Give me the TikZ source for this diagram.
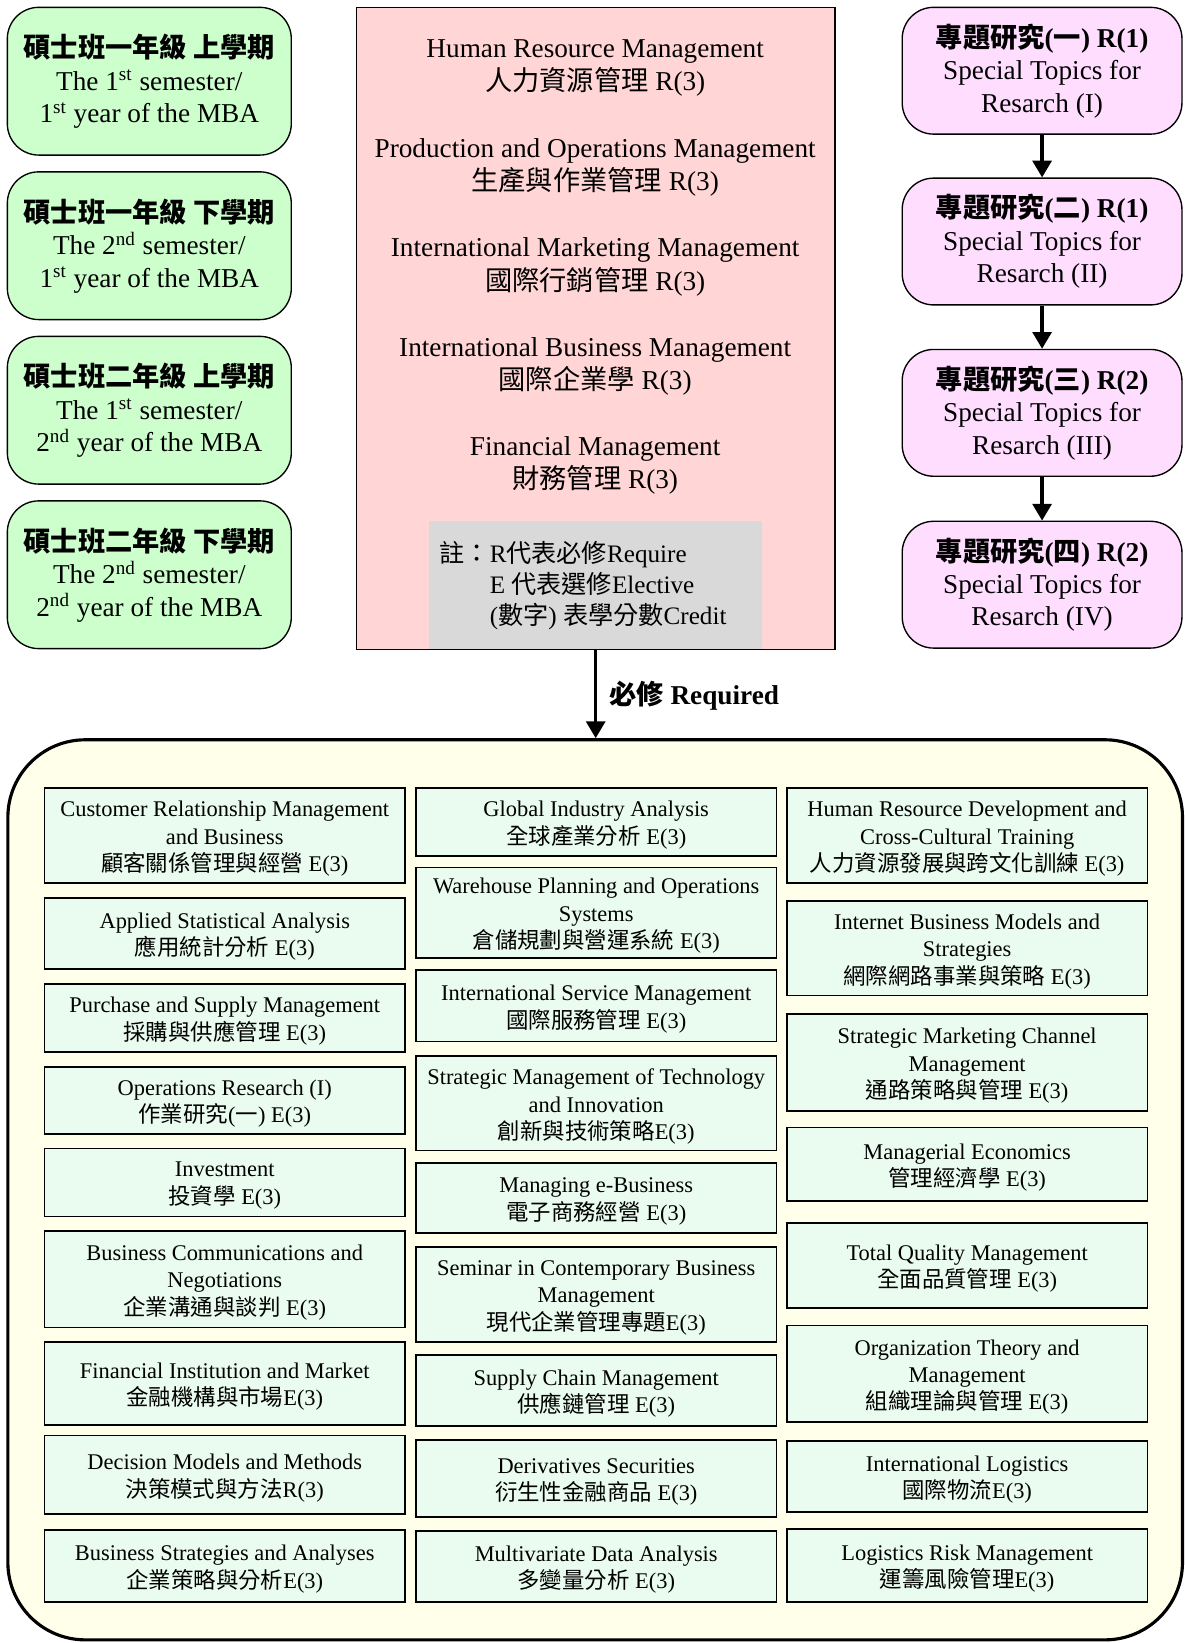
\documentclass[tikz,border=0pt]{standalone}
\usepackage{fontspec}
\setmainfont{Liberation Serif}
\newfontfamily\cjk{Noto Sans CJK TC}
\newcommand\C[1]{{\cjk #1}}
\usetikzlibrary{arrows.meta}
\definecolor{semgreen}{RGB}{204,255,204}
\definecolor{midpink}{RGB}{255,213,213}
\definecolor{notegray}{RGB}{217,217,217}
\definecolor{rpink}{RGB}{255,221,255}
\definecolor{ivory}{RGB}{255,255,234}
\definecolor{coursefill}{RGB}{234,251,239}
\tikzset{
  sembox/.style={draw, line width=0.65pt, fill=semgreen, rounded corners=15pt,
    minimum width=135.5pt, minimum height=70.5pt, inner sep=0pt, align=center,
    font=\fontsize{13}{15.5}\selectfont},
  resbox/.style={draw, line width=0.65pt, fill=rpink, rounded corners=15pt,
    minimum width=133.5pt, minimum height=60.5pt, inner sep=0pt, align=center,
    font=\fontsize{13}{15.5}\selectfont},
  midtxt/.style={inner sep=0pt, align=center, font=\fontsize{13}{16}\selectfont},
  coursebg/.style={draw, line width=0.8pt, fill=coursefill, minimum width=172pt, inner sep=0pt},
  coursetxt/.style={inner sep=0pt, align=center, font=\fontsize{10.7}{13}\selectfont},
  arr/.style={line width=1.6pt, -{Triangle[width=9pt,length=8pt]}},
}
\newcommand\coursebox[5]{%
  \node[coursebg, minimum height={(#4-#3)*0.5pt}] (#1) at ({#2},{(#3+#4)/2}) {};
  \node[coursetxt] (#1t) at ([yshift=-1.5pt]#1.center) {#5};}
\begin{document}
\begin{tikzpicture}[x=0.5pt,y=-0.5pt]
\useasboundingbox (0,0) rectangle (1130,1568);
\fill[white] (0,0) rectangle (1130,1568);

% left semester boxes
\node[sembox] (s1) at (142.5,77.5) {{\bfseries\C{碩士班一年級 上學期}}\\The 1\textsuperscript{st} semester/\\1\textsuperscript{st} year of the MBA};
\node[sembox] (s2) at (142.5,234.5) {{\bfseries\C{碩士班一年級 下學期}}\\The 2\textsuperscript{nd} semester/\\1\textsuperscript{st} year of the MBA};
\node[sembox] (s3) at (142.5,391.5) {{\bfseries\C{碩士班二年級 上學期}}\\The 1\textsuperscript{st} semester/\\2\textsuperscript{nd} year of the MBA};
\node[sembox] (s4) at (142.5,548.5) {{\bfseries\C{碩士班二年級 下學期}}\\The 2\textsuperscript{nd} semester/\\2\textsuperscript{nd} year of the MBA};

% middle required box
\node[draw, line width=0.65pt, fill=midpink, minimum width=228.5pt, minimum height=306.5pt, inner sep=0pt] (mid) at (568.5,313.5) {};
\node[midtxt] (m1) at (568,65) {Human Resource Management\\\C{人力資源管理} R(3)};
\node[midtxt] (m2) at (568,160) {Production and Operations Management\\\C{生產與作業管理} R(3)};
\node[midtxt] (m3) at (568,255) {International Marketing Management\\\C{國際行銷管理} R(3)};
\node[midtxt] (m4) at (568,349.5) {International Business Management\\\C{國際企業學} R(3)};
\node[midtxt] (m5) at (568,444) {Financial Management\\\C{財務管理} R(3)};
\node[fill=notegray, minimum width=159pt, minimum height=61.25pt, inner sep=0pt] (gray) at (568,558.25) {};
\node[anchor=west, inner sep=0pt, align=left, font=\fontsize{12}{14.75}\selectfont] (note) at (419,559)
  {\C{註：}R\C{代表必修}Require\\\phantom{\C{註：}}E \C{代表選修}Elective\\\phantom{\C{註：}}(\C{數字}) \C{表學分數}Credit};

% right research boxes
\node[resbox] (r1) at (994.5,67.5) {{\bfseries\C{專題研究}(\C{一}) R(1)}\\Special Topics for\\Resarch (I)};
\node[resbox] (r2) at (994.5,230.5) {{\bfseries\C{專題研究}(\C{二}) R(1)}\\Special Topics for\\Resarch (II)};
\node[resbox] (r3) at (994.5,394) {{\bfseries\C{專題研究}(\C{三}) R(2)}\\Special Topics for\\Resarch (III)};
\node[resbox] (r4) at (994.5,558) {{\bfseries\C{專題研究}(\C{四}) R(2)}\\Special Topics for\\Resarch (IV)};
\draw[arr] (r1) -- (r2);
\draw[arr] (r2) -- (r3);
\draw[arr] (r3) -- (r4);

% big elective box
\node[draw, line width=1.5pt, fill=ivory, rounded corners=37pt, minimum width=560.5pt, minimum height=429.5pt, inner sep=0pt] (big) at (568,1135.5) {};
\draw[arr] (mid.south) -- (mid.south |- big.north);
\node[anchor=west, inner sep=0pt, font=\fontsize{13}{15.5}\selectfont\bfseries] (req) at (581,664) {\C{必修} Required};

% column 1
\coursebox{c11}{214.5}{752}{843}{Customer Relationship Management\\and Business\\\C{顧客關係管理與經營} E(3)}
\coursebox{c12}{214.5}{857}{925}{Applied Statistical Analysis\\\C{應用統計分析} E(3)}
\coursebox{c13}{214.5}{939}{1004}{Purchase and Supply Management\\\C{採購與供應管理} E(3)}
\coursebox{c14}{214.5}{1018}{1082}{Operations Research (I)\\\C{作業研究}(\C{一}) E(3)}
\coursebox{c15}{214.5}{1096}{1161}{Investment\\\C{投資學} E(3)}
\coursebox{c16}{214.5}{1175}{1267}{Business Communications and\\Negotiations\\\C{企業溝通與談判} E(3)}
\coursebox{c17}{214.5}{1281}{1360}{Financial Institution and Market\\\C{金融機構與市場}E(3)}
\coursebox{c18}{214.5}{1370}{1445}{Decision Models and Methods\\\C{決策模式與方法}R(3)}
\coursebox{c19}{214.5}{1460}{1529}{Business Strategies and Analyses\\\C{企業策略與分析}E(3)}

% column 2
\coursebox{c21}{569}{752}{817}{Global Industry Analysis\\\C{全球產業分析} E(3)}
\coursebox{c22}{569}{828}{914}{Warehouse Planning and Operations\\Systems\\\C{倉儲規劃與營運系統} E(3)}
\coursebox{c23}{569}{926}{994}{International Service Management\\\C{國際服務管理} E(3)}
\coursebox{c24}{569}{1008}{1098}{Strategic Management of Technology\\and Innovation\\\C{創新與技術策略}E(3)}
\coursebox{c25}{569}{1110}{1177}{Managing e-Business\\\C{電子商務經營} E(3)}
\coursebox{c26}{569}{1190}{1281}{Seminar in Contemporary Business\\Management\\\C{現代企業管理專題}E(3)}
\coursebox{c27}{569}{1293}{1361}{Supply Chain Management\\\C{供應鏈管理} E(3)}
\coursebox{c28}{569}{1374}{1448}{Derivatives Securities\\\C{衍生性金融商品} E(3)}
\coursebox{c29}{569}{1461}{1529}{Multivariate Data Analysis\\\C{多變量分析} E(3)}

% column 3
\coursebox{c31}{923}{752}{843}{Human Resource Development and\\Cross-Cultural Training\\\C{人力資源發展與跨文化訓練} E(3)}
\coursebox{c32}{923}{860}{950}{Internet Business Models and\\Strategies\\\C{網際網路事業與策略} E(3)}
\coursebox{c33}{923}{968}{1060}{Strategic Marketing Channel\\Management\\\C{通路策略與管理} E(3)}
\coursebox{c34}{923}{1076}{1146}{Managerial Economics\\\C{管理經濟學} E(3)}
\coursebox{c35}{923}{1167}{1248}{Total Quality Management\\\C{全面品質管理} E(3)}
\coursebox{c36}{923}{1265}{1357}{Organization Theory and\\Management\\\C{組織理論與管理} E(3)}
\coursebox{c37}{923}{1375}{1443}{International Logistics\\\C{國際物流}E(3)}
\coursebox{c38}{923}{1459}{1529}{Logistics Risk Management\\\C{運籌風險管理}E(3)}
\end{tikzpicture}
\end{document}
